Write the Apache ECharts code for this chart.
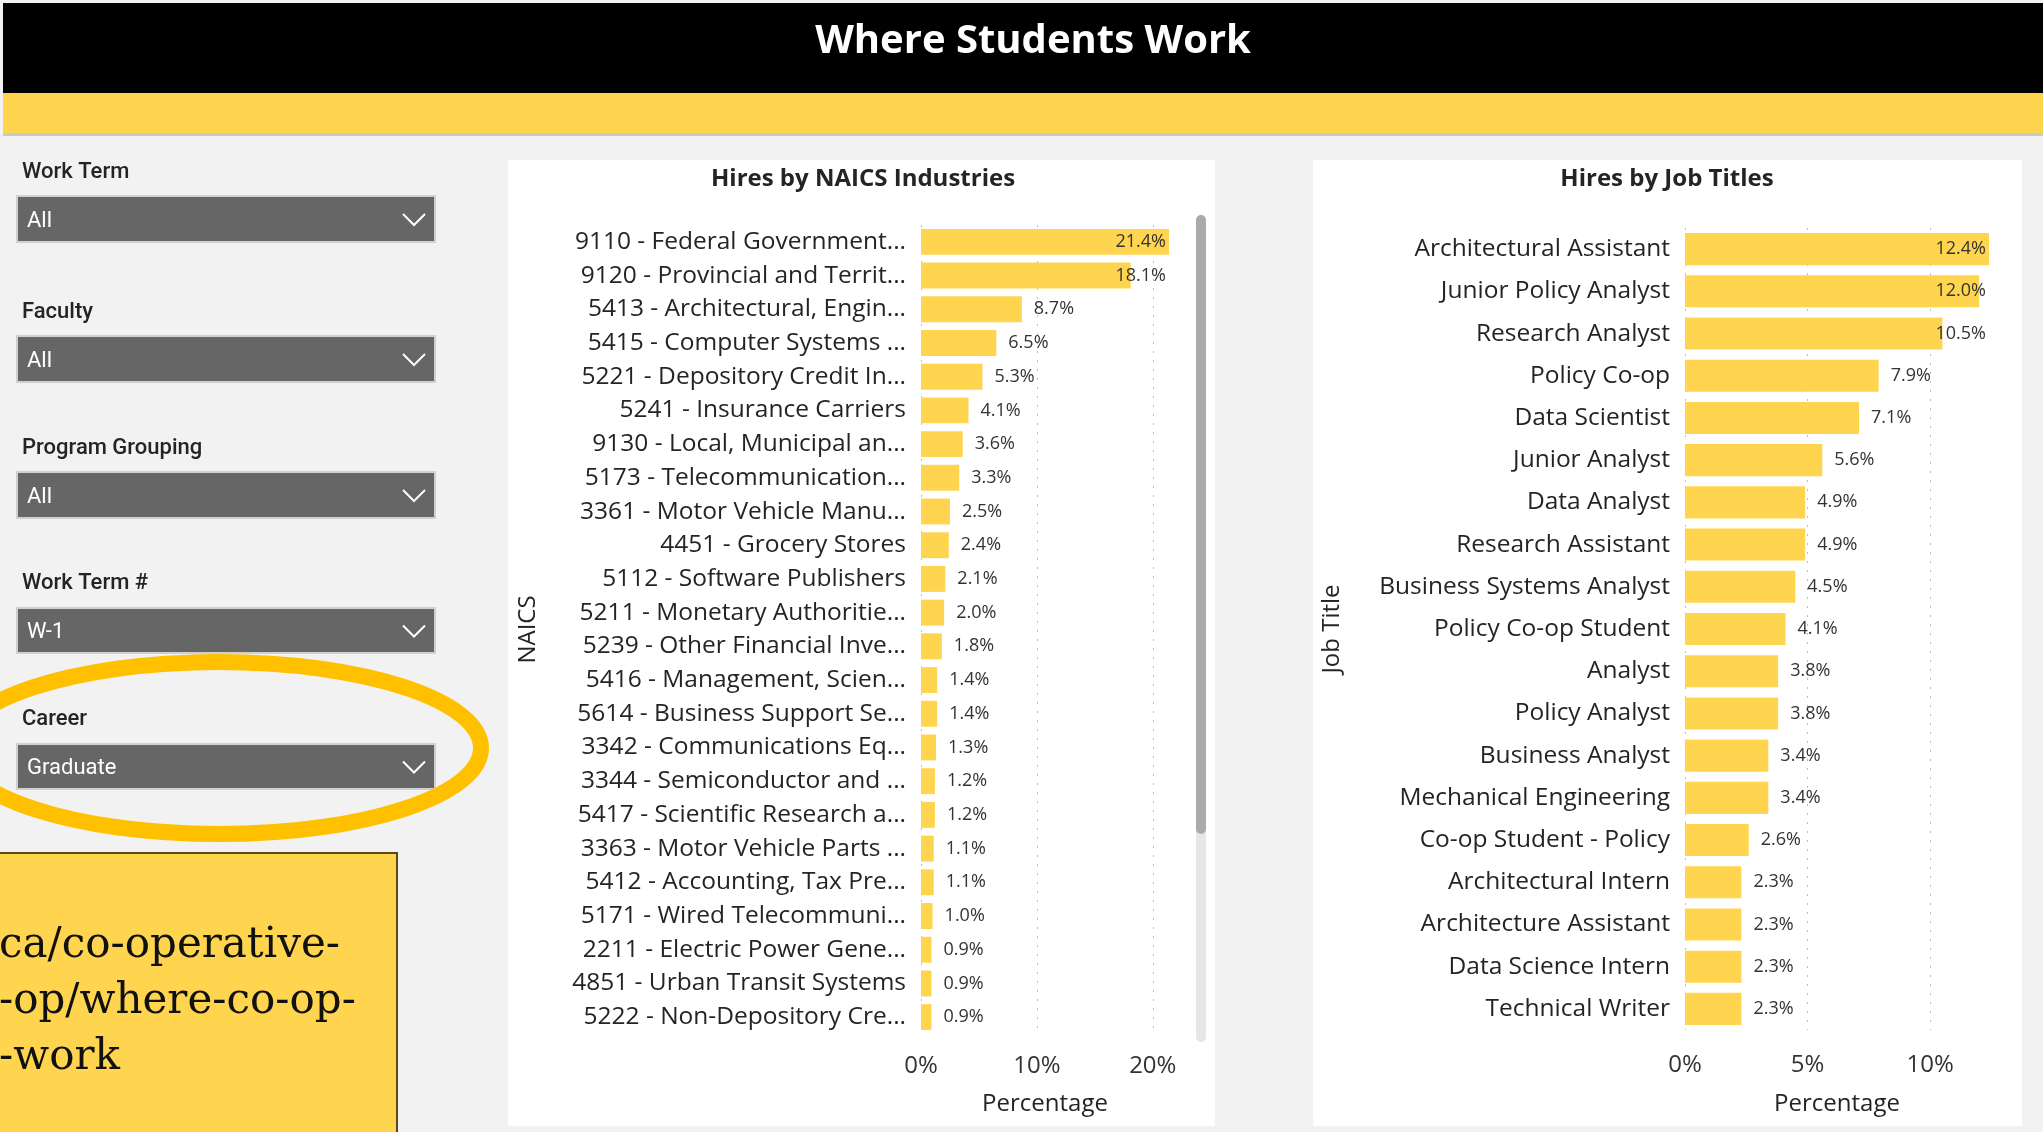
<!DOCTYPE html>
<html><head><meta charset="utf-8">
<script src="https://cdn.jsdelivr.net/npm/echarts@6/dist/echarts.min.js"></script>
<style>html,body{margin:0;padding:0;background:#F2F2F2;overflow:hidden}#c{width:2043px;height:1132px}</style>
</head><body><div id="c"></div>
<script>
// ---- data ----
const naicsCategories = [
  '9110 - Federal Government...', '9120 - Provincial and Territ...', '5413 - Architectural, Engin...',
  '5415 - Computer Systems ...', '5221 - Depository Credit In...', '5241 - Insurance Carriers',
  '9130 - Local, Municipal an...', '5173 - Telecommunication...', '3361 - Motor Vehicle Manu...',
  '4451 - Grocery Stores', '5112 - Software Publishers', '5211 - Monetary Authoritie...',
  '5239 - Other Financial Inve...', '5416 - Management, Scien...', '5614 - Business Support Se...',
  '3342 - Communications Eq...', '3344 - Semiconductor and ...', '5417 - Scientific Research a...',
  '3363 - Motor Vehicle Parts ...', '5412 - Accounting, Tax Pre...', '5171 - Wired Telecommuni...',
  '2211 - Electric Power Gene...', '4851 - Urban Transit Systems', '5222 - Non-Depository Cre...'
];
const naicsValues = [21.4, 18.1, 8.7, 6.5, 5.3, 4.1, 3.6, 3.3, 2.5, 2.4, 2.1, 2.0, 1.8, 1.4, 1.4, 1.3, 1.2, 1.2, 1.1, 1.1, 1.0, 0.9, 0.9, 0.9];
const naicsTickStep = 10;

const jobCategories = [
  'Architectural Assistant', 'Junior Policy Analyst', 'Research Analyst', 'Policy Co-op', 'Data Scientist',
  'Junior Analyst', 'Data Analyst', 'Research Assistant', 'Business Systems Analyst', 'Policy Co-op Student',
  'Analyst', 'Policy Analyst', 'Business Analyst', 'Mechanical Engineering', 'Co-op Student - Policy',
  'Architectural Intern', 'Architecture Assistant', 'Data Science Intern', 'Technical Writer'
];
const jobValues = [12.4, 12.0, 10.5, 7.9, 7.1, 5.6, 4.9, 4.9, 4.5, 4.1, 3.8, 3.8, 3.4, 3.4, 2.6, 2.3, 2.3, 2.3, 2.3];
const jobTickStep = 5;

const filterLabels = ['Work Term', 'Faculty', 'Program Grouping', 'Work Term #', 'Career'];
const filterValues = ['All', 'All', 'All', 'W-1', 'Graduate'];
const linkLines = ['ca/co-operative-', '-op/where-co-op-', '-work'];
const pageTitle = 'Where Students Work';
const naicsTitle = 'Hires by NAICS Industries';
const jobTitle = 'Hires by Job Titles';

// ---- layout / style ----
const FONT = '"Open Sans", "Noto Sans", sans-serif';
const DIN = 'Roboto, "Noto Sans", sans-serif';
const BAR = '#FFD54F';
const TXT = '#252423';
const grids = [
  { left: 921, top: 225, width: 248, height: 809 },
  { left: 1685, top: 228, width: 304, height: 802 }
];
const filterY = [ {label: 172, box: [196, 242]}, {label: 312, box: [336, 382]}, {label: 448, box: [472, 518]},
                  {label: 583, box: [608, 653]}, {label: 719, box: [744, 789]} ];

const chart = echarts.init(document.getElementById('c'), null, { renderer: 'canvas', width: 2043, height: 1132 });

function clampLayout(gi) {
  const right = grids[gi].left + grids[gi].width - 3;
  return function (p) {
    const r = p.labelRect;
    if (r.x + r.width > right) {
      return { x: right, y: r.y + r.height / 2, align: 'right', verticalAlign: 'middle' };
    }
    return {};
  };
}

function xAxisCfg(gi, step, values, nameGap, margin) {
  return {
    type: 'value', gridIndex: gi, min: 0, max: Math.max.apply(null, values), interval: step,
    axisLine: { show: false }, axisTick: { show: false },
    axisLabel: { formatter: v => v + '%', color: '#333', fontFamily: FONT, fontSize: 24, margin: margin, showMaxLabel: false },
    splitLine: { show: true, showMaxLine: false, lineStyle: { color: '#BDBDBD', type: [2, 7], width: 1 } },
    name: 'Percentage', nameLocation: 'middle', nameGap: nameGap,
    nameTextStyle: { color: TXT, fontFamily: FONT, fontSize: 24 }
  };
}
function yAxisCfg(gi, cats, name, nameGap) {
  return {
    type: 'category', gridIndex: gi, data: cats, inverse: true,
    axisLine: { show: false }, axisTick: { show: false },
    axisLabel: { color: TXT, fontFamily: FONT, fontSize: 24.5, margin: 15, interval: 0 },
    name: name, nameLocation: 'middle', nameRotate: 90, nameGap: nameGap,
    nameTextStyle: { color: TXT, fontFamily: FONT, fontSize: 24 }
  };
}
function barSeries(gi, values, gap) {
  return {
    type: 'bar', xAxisIndex: gi, yAxisIndex: gi, data: values, barCategoryGap: gap,
    itemStyle: { color: BAR }, silent: true,
    label: { show: true, position: 'right', distance: 12, formatter: p => p.value.toFixed(1) + '%',
             color: '#333', fontFamily: FONT, fontSize: 18 },
    labelLayout: clampLayout(gi)
  };
}

// graphic elements
const g = [];
g.push({ type: 'rect', z: -5, shape: { x: 3, y: 3, width: 2043, height: 91 }, style: { fill: '#000' } });
g.push({ type: 'rect', z: -5, shape: { x: 3, y: 93, width: 2043, height: 40 }, style: { fill: BAR } });
g.push({ type: 'rect', z: -5, shape: { x: 3, y: 133, width: 2043, height: 3 }, style: { fill: '#C9C9C9' } });
g.push({ type: 'text', z: 5, x: 1033, y: 42, style: { text: pageTitle, fill: '#fff', font: 'bold 40px ' + FONT, align: 'center', verticalAlign: 'middle' } });

// panels
g.push({ type: 'rect', z: -5, shape: { x: 508, y: 160, width: 707, height: 966 }, style: { fill: '#fff' } });
g.push({ type: 'rect', z: -5, shape: { x: 1313, y: 160, width: 709, height: 966 }, style: { fill: '#fff' } });
g.push({ type: 'text', z: 5, x: 863, y: 179, style: { text: naicsTitle, fill: TXT, font: 'bold 24px ' + FONT, align: 'center', verticalAlign: 'middle' } });
g.push({ type: 'text', z: 5, x: 1667, y: 179, style: { text: jobTitle, fill: TXT, font: 'bold 24px ' + FONT, align: 'center', verticalAlign: 'middle' } });
// scrollbar
g.push({ type: 'rect', z: -4, shape: { x: 1196, y: 215, width: 10, height: 827, r: 5 }, style: { fill: '#E6E6E6' } });
g.push({ type: 'rect', z: -3, shape: { x: 1196, y: 215, width: 10, height: 619, r: 5 }, style: { fill: '#ABABAB' } });

// filters
filterLabels.forEach((lab, i) => {
  const f = filterY[i];
  const cy = (f.box[0] + f.box[1]) / 2;
  g.push({ type: 'text', z: 5, x: 22, y: f.label, style: { text: lab, fill: TXT, font: '500 22px ' + DIN, align: 'left', verticalAlign: 'middle' } });
  g.push({ type: 'rect', z: 1, shape: { x: 17, y: f.box[0], width: 418, height: f.box[1] - f.box[0] }, style: { fill: '#666666', stroke: '#D0D0D0', lineWidth: 2 } });
  g.push({ type: 'text', z: 5, x: 27, y: cy + 2, style: { text: filterValues[i], fill: '#fff', font: '22px ' + DIN, align: 'left', verticalAlign: 'middle' } });
  g.push({ type: 'polyline', z: 5, shape: { points: [[403, cy - 5], [414, cy + 6], [425, cy - 5]] }, style: { stroke: '#fff', lineWidth: 2, fill: 'none' } });
});
// highlight ellipse
g.push({ type: 'ellipse', z: 6, shape: { cx: 219, cy: 748, rx: 262, ry: 86 }, style: { fill: 'none', stroke: '#FFC000', lineWidth: 16 } });
// link box
g.push({ type: 'rect', z: 1, shape: { x: -3, y: 853, width: 400, height: 300 }, style: { fill: BAR, stroke: '#5C4A12', lineWidth: 2 } });
linkLines.forEach((t, i) => {
  g.push({ type: 'text', z: 5, x: -1, y: 946 + i * 56, style: { text: t, fill: '#111', font: '42px "DejaVu Serif", serif', align: 'left', verticalAlign: 'middle' } });
});

chart.setOption({
  backgroundColor: '#F2F2F2',
  animation: false,
  grid: grids.map(r => Object.assign({ containLabel: false }, r)),
  xAxis: [xAxisCfg(0, naicsTickStep, naicsValues, 58, 20), xAxisCfg(1, jobTickStep, jobValues, 62, 23)],
  yAxis: [yAxisCfg(0, naicsCategories, 'NAICS', 381), yAxisCfg(1, jobCategories, 'Job Title', 341)],
  series: [barSeries(0, naicsValues, '23%'), barSeries(1, jobValues, '24%')],
  graphic: { elements: g }
});
</script>
</body></html>
